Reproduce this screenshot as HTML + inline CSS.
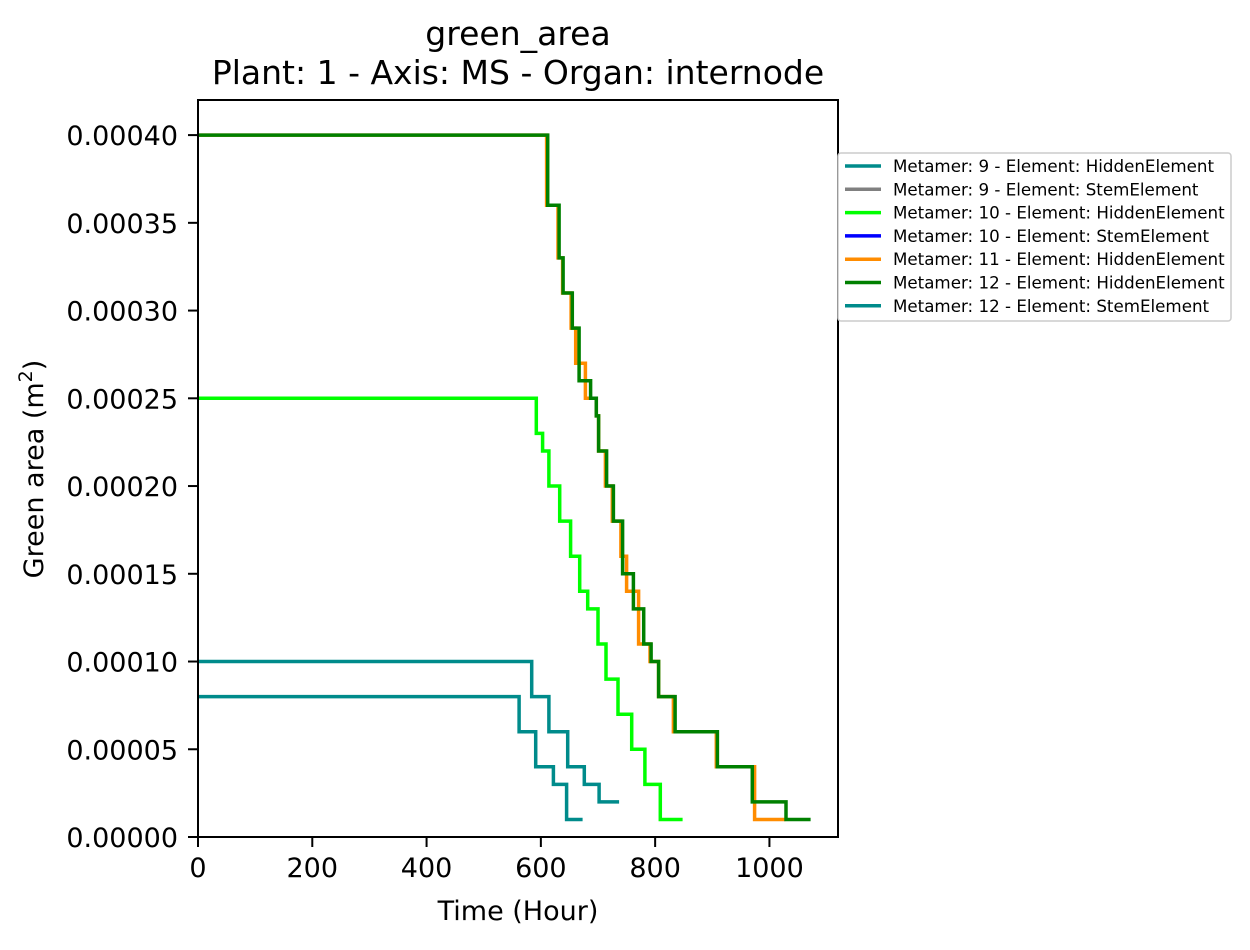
<!DOCTYPE html>
<html><head><meta charset="utf-8">
<style>
body{margin:0;background:#fff;font-family:"Liberation Sans","DejaVu Sans",sans-serif;}
svg text{font-family:"DejaVu Sans","Liberation Sans",sans-serif;}
</style></head>
<body>
<svg id="chart" width="1250" height="945" viewBox="0 0 1250 945" xmlns="http://www.w3.org/2000/svg">
<rect width="1250" height="945" fill="#fff"/>
<text x="518" y="45" font-size="33" text-anchor="middle">green_area</text>
<text x="518" y="84" font-size="33" text-anchor="middle">Plant: 1 - Axis: MS - Organ: internode</text>
<g id="plot"></g>
<rect x="198" y="100" width="640" height="737" fill="none" stroke="#000" stroke-width="2"/>
<g id="xticks"></g>
<g id="yticks"></g>
<text x="518" y="920" font-size="27" text-anchor="middle">Time (Hour)</text>
<text transform="translate(43,469) rotate(-90)" font-size="27" text-anchor="middle">Green area (m<tspan font-size="19" dy="-11">2</tspan><tspan dy="11">)</tspan></text>
<g id="legend"></g>
</svg>
<script>
const xTicks=[0,200,400,600,800,1000];
const yTicks=[0,0.00005,0.0001,0.00015,0.0002,0.00025,0.0003,0.00035,0.0004];
const yTickLabels=["0.00000","0.00005","0.00010","0.00015","0.00020","0.00025","0.00030","0.00035","0.00040"];
// step series: hours where value starts, values (1e-5 m2), end hour
const tealAHours=[0,584,614,647,676,702];
const tealAVals=[10,8,6,4,3,2];
const tealAEnd=737;
const tealBHours=[0,562,591,622,645];
const tealBVals=[8,6,4,3,1];
const tealBEnd=673;
const limeHours=[0,592,603,614,633,652,668,682,700,714,735,759,782,809];
const limeVals=[25,23,22,20,18,16,14,13,11,9,7,5,3,1];
const limeEnd=848;
const orangeHours=[0,610,630,638,653,661,678,697,701,713,725,740,750,771,791,806,832,907,974];
const orangeVals=[40,36,33,31,29,27,25,24,22,20,18,16,14,11,10,8,6,4,1];
const orangeEnd=1028;
const greenHours=[0,612,632,639,655,667,687,697,701,715,727,743,762,780,793,806,835,909,970,1029];
const greenVals=[40,36,33,31,29,26,25,24,22,20,18,15,13,11,10,8,6,4,2,1];
const greenEnd=1072;
const legendLabels=["Metamer: 9 - Element: HiddenElement","Metamer: 9 - Element: StemElement","Metamer: 10 - Element: HiddenElement","Metamer: 10 - Element: StemElement","Metamer: 11 - Element: HiddenElement","Metamer: 12 - Element: HiddenElement","Metamer: 12 - Element: StemElement"];
const legendColors=["#008b8b","#808080","#00ff00","#0000ff","#ff8c00","#008000","#008b8b"];

const NS="http://www.w3.org/2000/svg";
const X0=198,X1=838,Y0=837,Y1=100,XMAX=1120,YMAX=0.00042;
const sx=h=>X0+h/XMAX*(X1-X0);
const sy=v=>Y0-v/YMAX*(Y0-Y1);
function mk(tag,attrs,parent){const e=document.createElementNS(NS,tag);for(const k in attrs)e.setAttribute(k,attrs[k]);parent.appendChild(e);return e;}

const xg=document.getElementById('xticks');
xTicks.forEach(t=>{
  const l=mk('line',{x1:sx(t),x2:sx(t),y1:Y0,y2:Y0+10,stroke:'#000','stroke-width':2},xg);
  
  
  const tx=mk('text',{x:sx(t),y:Y0+40,'font-size':27,'text-anchor':'middle'},xg);
  tx.textContent=String(t);
  
  
});
const yg=document.getElementById('yticks');
yTicks.forEach((t,i)=>{
  const l=mk('line',{x1:X0-10,x2:X0,y1:sy(t),y2:sy(t),stroke:'#000','stroke-width':2},yg);
  
  
  const tx=mk('text',{x:X0-20,y:sy(t)+10,'font-size':27,'text-anchor':'end'},yg);
  tx.textContent=yTickLabels[i];
  
  
});

const plot=document.getElementById('plot');
function stepLine(hours,vals,end,color,name){
  let d='';
  for(let i=0;i<hours.length;i++){
    const y=sy(vals[i]*1e-5);
    const xs=sx(hours[i]);
    const xe=sx(i+1<hours.length?hours[i+1]:end);
    d+=(i===0?'M':'L')+xs.toFixed(1)+','+y.toFixed(1)+'L'+xe.toFixed(1)+','+y.toFixed(1);
  }
  const p=mk('path',{d:d,fill:'none',stroke:color,'stroke-width':3.5},plot);
  
  
}
stepLine(tealAHours,tealAVals,tealAEnd,'#008b8b','series-metamer-12-stem');
stepLine(tealBHours,tealBVals,tealBEnd,'#008b8b','series-metamer-9-hidden');
stepLine(limeHours,limeVals,limeEnd,'#00ff00','series-metamer-10-hidden');
stepLine(orangeHours,orangeVals,orangeEnd,'#ff8c00','series-metamer-11-hidden');
stepLine(greenHours,greenVals,greenEnd,'#008000','series-metamer-12-hidden');

const lg=document.getElementById('legend');
const box=mk('rect',{x:838,y:153,width:393,height:168,rx:3,fill:'#fff',stroke:'#ccc','stroke-width':1.5},lg);


legendLabels.forEach((lab,i)=>{
  const y=166+i*23.3;
  const l=mk('line',{x1:845,x2:881,y1:y,y2:y,stroke:legendColors[i],'stroke-width':3.5},lg);
  
  
  const t=mk('text',{x:893,y:y+6,'font-size':16.7},lg);
  t.textContent=lab;
  
  
});
</script>
</body></html>
